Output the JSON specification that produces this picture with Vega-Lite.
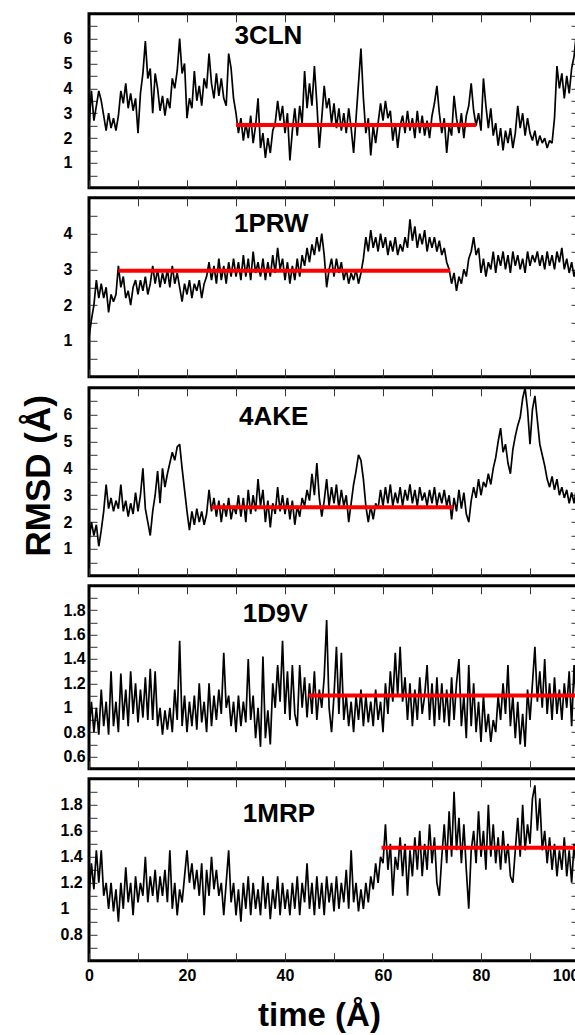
{
"$schema":"https://vega.github.io/schema/vega-lite/v6.json",
"background":"white",
"padding":{"left":19,"top":11.8,"right":0,"bottom":0},
"spacing":6,
"config":{
 "font":"Liberation Sans",
 "view":{"stroke":"black","strokeWidth":3},
 "line":{"color":"black","strokeWidth":1.7,"strokeJoin":"bevel","clip":true},
 "axis":{"domain":false,"grid":false,"tickSize":-8,"tickColor":"#333","tickWidth":1,"labelFont":"Liberation Sans","labelFontWeight":"bold","labelFontSize":16,"labelColor":"black","titleFont":"Liberation Sans","titleFontWeight":"bold","titleColor":"black"}
},
"datasets":{
"d1":[{"t":0,"r":2.5},{"t":0.5,"r":3.9},{"t":1,"r":2.7},{"t":1.5,"r":3.3},{"t":2,"r":3.9},{"t":2.5,"r":3.5},{"t":3,"r":2.9},{"t":3.5,"r":2.3},{"t":4,"r":3.0},{"t":4.5,"r":2.4},
{"t":5,"r":2.8},{"t":5.5,"r":2.3},{"t":6,"r":2.9},{"t":6.5,"r":3.9},{"t":7,"r":3.4},{"t":7.5,"r":4.2},{"t":8,"r":3.2},{"t":8.5,"r":3.8},{"t":9,"r":3.1},{"t":9.5,"r":3.6},
{"t":10,"r":2.2},{"t":10.5,"r":3.8},{"t":11,"r":4.6},{"t":11.5,"r":5.9},{"t":12,"r":4.4},{"t":12.5,"r":4.8},{"t":13,"r":3.0},{"t":13.5,"r":4.6},{"t":14,"r":4.0},{"t":14.5,"r":3.1},
{"t":15,"r":3.7},{"t":15.5,"r":2.9},{"t":16,"r":3.6},{"t":16.5,"r":3.2},{"t":17,"r":4.4},{"t":17.5,"r":4.0},{"t":18,"r":4.7},{"t":18.5,"r":6.0},{"t":19,"r":4.6},{"t":19.5,"r":5.0},
{"t":20,"r":2.8},{"t":20.5,"r":3.6},{"t":21,"r":3.2},{"t":21.5,"r":4.7},{"t":22,"r":3.5},{"t":22.5,"r":4.1},{"t":23,"r":3.3},{"t":23.5,"r":4.4},{"t":24,"r":4.0},{"t":24.5,"r":5.4},
{"t":25,"r":4.2},{"t":25.5,"r":3.6},{"t":26,"r":4.6},{"t":26.5,"r":3.7},{"t":27,"r":4.4},{"t":27.5,"r":3.6},{"t":28,"r":3.3},{"t":28.5,"r":5.4},{"t":29,"r":4.8},{"t":29.5,"r":3.6},
{"t":30,"r":3.0},{"t":30.5,"r":2.2},{"t":31,"r":2.8},{"t":31.5,"r":1.9},{"t":32,"r":2.6},{"t":32.5,"r":2.0},{"t":33,"r":2.9},{"t":33.5,"r":1.8},{"t":34,"r":2.5},{"t":34.5,"r":3.6},
{"t":35,"r":1.6},{"t":35.5,"r":2.2},{"t":36,"r":1.2},{"t":36.5,"r":2.0},{"t":37,"r":1.4},{"t":37.5,"r":2.3},{"t":38,"r":2.6},{"t":38.5,"r":3.5},{"t":39,"r":2.7},{"t":39.5,"r":3.3},
{"t":40,"r":2.2},{"t":40.5,"r":3.0},{"t":41,"r":1.1},{"t":41.5,"r":2.3},{"t":42,"r":3.2},{"t":42.5,"r":2.1},{"t":43,"r":3.3},{"t":43.5,"r":2.6},{"t":44,"r":4.7},{"t":44.5,"r":3.2},
{"t":45,"r":4.2},{"t":45.5,"r":3.3},{"t":46,"r":4.9},{"t":46.5,"r":3.4},{"t":47,"r":1.6},{"t":47.5,"r":2.8},{"t":48,"r":4.1},{"t":48.5,"r":3.2},{"t":49,"r":3.6},{"t":49.5,"r":2.6},
{"t":50,"r":3.4},{"t":50.5,"r":2.4},{"t":51,"r":3.2},{"t":51.5,"r":2.3},{"t":52,"r":3.0},{"t":52.5,"r":2.2},{"t":53,"r":3.2},{"t":53.5,"r":2.4},{"t":54,"r":1.4},{"t":54.5,"r":2.8},
{"t":55,"r":4.2},{"t":55.5,"r":5.6},{"t":56,"r":3.6},{"t":56.5,"r":2.2},{"t":57,"r":2.8},{"t":57.5,"r":1.3},{"t":58,"r":2.5},{"t":58.5,"r":1.8},{"t":59,"r":2.6},{"t":59.5,"r":3.4},
{"t":60,"r":2.7},{"t":60.5,"r":3.5},{"t":61,"r":2.8},{"t":61.5,"r":3.1},{"t":62,"r":1.9},{"t":62.5,"r":2.6},{"t":63,"r":1.6},{"t":63.5,"r":2.5},{"t":64,"r":2.9},{"t":64.5,"r":2.2},
{"t":65,"r":3.1},{"t":65.5,"r":2.3},{"t":66,"r":2.8},{"t":66.5,"r":2.0},{"t":67,"r":3.1},{"t":67.5,"r":2.2},{"t":68,"r":2.9},{"t":68.5,"r":2.1},{"t":69,"r":2.7},{"t":69.5,"r":2.0},
{"t":70,"r":2.9},{"t":70.5,"r":3.4},{"t":71,"r":4.1},{"t":71.5,"r":3.0},{"t":72,"r":2.2},{"t":72.5,"r":2.8},{"t":73,"r":1.4},{"t":73.5,"r":2.5},{"t":74,"r":2.1},{"t":74.5,"r":3.7},
{"t":75,"r":2.8},{"t":75.5,"r":2.2},{"t":76,"r":3.0},{"t":76.5,"r":2.0},{"t":77,"r":2.9},{"t":77.5,"r":3.3},{"t":78,"r":4.2},{"t":78.5,"r":3.1},{"t":79,"r":2.5},{"t":79.5,"r":3.0},
{"t":80,"r":2.3},{"t":80.5,"r":4.4},{"t":81,"r":3.3},{"t":81.5,"r":2.4},{"t":82,"r":3.2},{"t":82.5,"r":2.1},{"t":83,"r":2.6},{"t":83.5,"r":1.7},{"t":84,"r":2.4},{"t":84.5,"r":1.5},
{"t":85,"r":2.3},{"t":85.5,"r":1.8},{"t":86,"r":2.4},{"t":86.5,"r":1.6},{"t":87,"r":2.2},{"t":87.5,"r":3.3},{"t":88,"r":2.4},{"t":88.5,"r":3.0},{"t":89,"r":2.1},{"t":89.5,"r":2.8},
{"t":90,"r":2.2},{"t":90.5,"r":1.9},{"t":91,"r":2.3},{"t":91.5,"r":1.7},{"t":92,"r":2.1},{"t":92.5,"r":1.8},{"t":93,"r":2.0},{"t":93.5,"r":1.6},{"t":94,"r":1.9},{"t":94.5,"r":1.8},
{"t":95,"r":2.8},{"t":95.5,"r":4.9},{"t":96,"r":4.0},{"t":96.5,"r":4.6},{"t":97,"r":3.6},{"t":97.5,"r":4.5},{"t":98,"r":3.8},{"t":98.5,"r":4.8},{"t":99,"r":5.3},{"t":99.5,"r":6.3},
{"t":100,"r":5.8}],
"d2":[{"t":0,"r":1.1},{"t":0.5,"r":1.6},{"t":1,"r":2.0},{"t":1.5,"r":2.7},{"t":2,"r":2.2},{"t":2.5,"r":2.6},{"t":3,"r":2.2},{"t":3.5,"r":2.5},{"t":4,"r":1.8},{"t":4.5,"r":2.3},
{"t":5,"r":2.1},{"t":5.5,"r":2.3},{"t":6,"r":3.1},{"t":6.5,"r":2.5},{"t":7,"r":2.8},{"t":7.5,"r":2.2},{"t":8,"r":2.4},{"t":8.5,"r":2.0},{"t":9,"r":2.5},{"t":9.5,"r":2.7},
{"t":10,"r":2.3},{"t":10.5,"r":2.7},{"t":11,"r":2.4},{"t":11.5,"r":2.8},{"t":12,"r":2.3},{"t":12.5,"r":2.6},{"t":13,"r":3.1},{"t":13.5,"r":2.6},{"t":14,"r":3.0},{"t":14.5,"r":2.5},
{"t":15,"r":2.9},{"t":15.5,"r":2.6},{"t":16,"r":3.0},{"t":16.5,"r":2.5},{"t":17,"r":3.1},{"t":17.5,"r":2.6},{"t":18,"r":2.9},{"t":18.5,"r":2.5},{"t":19,"r":2.1},{"t":19.5,"r":2.6},
{"t":20,"r":2.3},{"t":20.5,"r":2.7},{"t":21,"r":2.2},{"t":21.5,"r":2.6},{"t":22,"r":2.4},{"t":22.5,"r":2.7},{"t":23,"r":2.2},{"t":23.5,"r":2.6},{"t":24,"r":2.8},{"t":24.5,"r":3.2},
{"t":25,"r":2.7},{"t":25.5,"r":3.1},{"t":26,"r":2.6},{"t":26.5,"r":3.3},{"t":27,"r":2.7},{"t":27.5,"r":3.1},{"t":28,"r":2.6},{"t":28.5,"r":3.2},{"t":29,"r":2.8},{"t":29.5,"r":3.3},
{"t":30,"r":2.8},{"t":30.5,"r":3.2},{"t":31,"r":2.7},{"t":31.5,"r":3.4},{"t":32,"r":2.8},{"t":32.5,"r":3.3},{"t":33,"r":2.7},{"t":33.5,"r":3.5},{"t":34,"r":2.9},{"t":34.5,"r":3.2},
{"t":35,"r":2.8},{"t":35.5,"r":3.3},{"t":36,"r":2.7},{"t":36.5,"r":3.2},{"t":37,"r":2.8},{"t":37.5,"r":3.4},{"t":38,"r":2.9},{"t":38.5,"r":3.6},{"t":39,"r":3.0},{"t":39.5,"r":3.3},
{"t":40,"r":2.7},{"t":40.5,"r":3.2},{"t":41,"r":2.6},{"t":41.5,"r":3.1},{"t":42,"r":2.7},{"t":42.5,"r":3.3},{"t":43,"r":2.8},{"t":43.5,"r":3.4},{"t":44,"r":3.1},{"t":44.5,"r":3.6},
{"t":45,"r":3.2},{"t":45.5,"r":3.7},{"t":46,"r":3.4},{"t":46.5,"r":3.9},{"t":47,"r":3.5},{"t":47.5,"r":4.0},{"t":48,"r":3.4},{"t":48.5,"r":2.5},{"t":49,"r":3.0},{"t":49.5,"r":3.3},
{"t":50,"r":2.8},{"t":50.5,"r":3.3},{"t":51,"r":2.9},{"t":51.5,"r":3.2},{"t":52,"r":2.7},{"t":52.5,"r":3.0},{"t":53,"r":2.6},{"t":53.5,"r":2.9},{"t":54,"r":2.7},{"t":54.5,"r":3.0},
{"t":55,"r":2.6},{"t":55.5,"r":2.9},{"t":56,"r":3.3},{"t":56.5,"r":3.9},{"t":57,"r":3.5},{"t":57.5,"r":4.1},{"t":58,"r":3.6},{"t":58.5,"r":3.9},{"t":59,"r":3.5},{"t":59.5,"r":4.0},
{"t":60,"r":3.6},{"t":60.5,"r":3.9},{"t":61,"r":3.4},{"t":61.5,"r":3.8},{"t":62,"r":3.5},{"t":62.5,"r":3.9},{"t":63,"r":3.4},{"t":63.5,"r":3.7},{"t":64,"r":3.5},{"t":64.5,"r":3.9},
{"t":65,"r":3.6},{"t":65.5,"r":4.4},{"t":66,"r":3.8},{"t":66.5,"r":4.2},{"t":67,"r":3.6},{"t":67.5,"r":4.0},{"t":68,"r":3.7},{"t":68.5,"r":4.1},{"t":69,"r":3.5},{"t":69.5,"r":3.9},
{"t":70,"r":3.6},{"t":70.5,"r":3.9},{"t":71,"r":3.5},{"t":71.5,"r":3.8},{"t":72,"r":3.4},{"t":72.5,"r":3.6},{"t":73,"r":3.2},{"t":73.5,"r":3.0},{"t":74,"r":2.6},{"t":74.5,"r":2.9},
{"t":75,"r":2.4},{"t":75.5,"r":2.8},{"t":76,"r":2.6},{"t":76.5,"r":3.0},{"t":77,"r":2.8},{"t":77.5,"r":3.3},{"t":78,"r":3.5},{"t":78.5,"r":3.9},{"t":79,"r":3.4},{"t":79.5,"r":3.6},
{"t":80,"r":2.9},{"t":80.5,"r":3.3},{"t":81,"r":2.8},{"t":81.5,"r":3.2},{"t":82,"r":3.0},{"t":82.5,"r":3.5},{"t":83,"r":2.9},{"t":83.5,"r":3.4},{"t":84,"r":3.1},{"t":84.5,"r":3.5},
{"t":85,"r":3.0},{"t":85.5,"r":3.4},{"t":86,"r":2.9},{"t":86.5,"r":3.5},{"t":87,"r":3.1},{"t":87.5,"r":3.4},{"t":88,"r":3.0},{"t":88.5,"r":3.3},{"t":89,"r":2.9},{"t":89.5,"r":3.5},
{"t":90,"r":3.1},{"t":90.5,"r":3.4},{"t":91,"r":3.2},{"t":91.5,"r":3.5},{"t":92,"r":3.1},{"t":92.5,"r":3.4},{"t":93,"r":3.0},{"t":93.5,"r":3.5},{"t":94,"r":3.1},{"t":94.5,"r":3.4},
{"t":95,"r":3.0},{"t":95.5,"r":3.5},{"t":96,"r":3.2},{"t":96.5,"r":3.6},{"t":97,"r":3.0},{"t":97.5,"r":3.3},{"t":98,"r":2.9},{"t":98.5,"r":3.2},{"t":99,"r":2.8},{"t":99.5,"r":3.1},
{"t":100,"r":2.9}],
"d3":[{"t":0,"r":1.3},{"t":0.5,"r":2.0},{"t":1,"r":1.5},{"t":1.5,"r":1.9},{"t":2,"r":1.1},{"t":2.5,"r":1.7},{"t":3,"r":2.4},{"t":3.5,"r":3.4},{"t":4,"r":2.5},{"t":4.5,"r":2.9},
{"t":5,"r":2.4},{"t":5.5,"r":2.8},{"t":6,"r":2.5},{"t":6.5,"r":3.4},{"t":7,"r":2.4},{"t":7.5,"r":2.8},{"t":8,"r":2.2},{"t":8.5,"r":2.7},{"t":9,"r":2.3},{"t":9.5,"r":3.1},
{"t":10,"r":2.4},{"t":10.5,"r":3.0},{"t":11,"r":4.0},{"t":11.5,"r":2.5},{"t":12,"r":2.0},{"t":12.5,"r":1.5},{"t":13,"r":2.4},{"t":13.5,"r":3.0},{"t":14,"r":3.9},{"t":14.5,"r":2.7},
{"t":15,"r":4.0},{"t":15.5,"r":3.3},{"t":16,"r":3.8},{"t":16.5,"r":4.2},{"t":17,"r":4.6},{"t":17.5,"r":4.3},{"t":18,"r":4.8},{"t":18.5,"r":4.9},{"t":19,"r":4.0},{"t":19.5,"r":3.2},
{"t":20,"r":2.4},{"t":20.5,"r":1.7},{"t":21,"r":2.4},{"t":21.5,"r":1.9},{"t":22,"r":2.5},{"t":22.5,"r":2.0},{"t":23,"r":2.4},{"t":23.5,"r":1.9},{"t":24,"r":2.3},{"t":24.5,"r":3.2},
{"t":25,"r":2.4},{"t":25.5,"r":2.9},{"t":26,"r":2.2},{"t":26.5,"r":2.8},{"t":27,"r":2.0},{"t":27.5,"r":2.7},{"t":28,"r":2.2},{"t":28.5,"r":2.9},{"t":29,"r":2.1},{"t":29.5,"r":2.6},
{"t":30,"r":2.3},{"t":30.5,"r":3.0},{"t":31,"r":2.2},{"t":31.5,"r":2.9},{"t":32,"r":2.0},{"t":32.5,"r":3.2},{"t":33,"r":2.3},{"t":33.5,"r":3.0},{"t":34,"r":2.4},{"t":34.5,"r":3.6},
{"t":35,"r":2.6},{"t":35.5,"r":3.2},{"t":36,"r":2.0},{"t":36.5,"r":2.8},{"t":37,"r":1.8},{"t":37.5,"r":2.7},{"t":38,"r":2.3},{"t":38.5,"r":3.3},{"t":39,"r":2.4},{"t":39.5,"r":3.0},
{"t":40,"r":2.3},{"t":40.5,"r":2.9},{"t":41,"r":2.1},{"t":41.5,"r":2.8},{"t":42,"r":1.9},{"t":42.5,"r":2.6},{"t":43,"r":2.2},{"t":43.5,"r":2.9},{"t":44,"r":2.6},{"t":44.5,"r":3.2},
{"t":45,"r":2.8},{"t":45.5,"r":3.8},{"t":46,"r":3.0},{"t":46.5,"r":4.2},{"t":47,"r":2.9},{"t":47.5,"r":2.2},{"t":48,"r":2.8},{"t":48.5,"r":3.6},{"t":49,"r":2.6},{"t":49.5,"r":3.3},
{"t":50,"r":2.7},{"t":50.5,"r":3.4},{"t":51,"r":2.5},{"t":51.5,"r":3.2},{"t":52,"r":2.6},{"t":52.5,"r":3.0},{"t":53,"r":2.0},{"t":53.5,"r":2.7},{"t":54,"r":3.4},{"t":54.5,"r":3.9},
{"t":55,"r":4.5},{"t":55.5,"r":4.3},{"t":56,"r":3.6},{"t":56.5,"r":2.6},{"t":57,"r":2.0},{"t":57.5,"r":2.6},{"t":58,"r":2.1},{"t":58.5,"r":2.7},{"t":59,"r":2.5},{"t":59.5,"r":3.2},
{"t":60,"r":2.6},{"t":60.5,"r":3.3},{"t":61,"r":2.7},{"t":61.5,"r":3.4},{"t":62,"r":2.6},{"t":62.5,"r":3.1},{"t":63,"r":2.7},{"t":63.5,"r":3.3},{"t":64,"r":2.6},{"t":64.5,"r":3.2},
{"t":65,"r":2.8},{"t":65.5,"r":3.4},{"t":66,"r":2.7},{"t":66.5,"r":3.2},{"t":67,"r":2.6},{"t":67.5,"r":3.3},{"t":68,"r":2.8},{"t":68.5,"r":3.1},{"t":69,"r":2.6},{"t":69.5,"r":3.2},
{"t":70,"r":2.7},{"t":70.5,"r":3.3},{"t":71,"r":2.6},{"t":71.5,"r":3.1},{"t":72,"r":2.7},{"t":72.5,"r":3.2},{"t":73,"r":2.6},{"t":73.5,"r":3.0},{"t":74,"r":2.1},{"t":74.5,"r":2.9},
{"t":75,"r":2.4},{"t":75.5,"r":3.2},{"t":76,"r":2.5},{"t":76.5,"r":3.1},{"t":77,"r":2.3},{"t":77.5,"r":2.0},{"t":78,"r":2.8},{"t":78.5,"r":3.3},{"t":79,"r":2.9},{"t":79.5,"r":3.6},
{"t":80,"r":3.0},{"t":80.5,"r":3.5},{"t":81,"r":3.3},{"t":81.5,"r":3.8},{"t":82,"r":3.4},{"t":82.5,"r":4.0},{"t":83,"r":4.4},{"t":83.5,"r":5.0},{"t":84,"r":5.5},{"t":84.5,"r":4.6},
{"t":85,"r":4.9},{"t":85.5,"r":4.2},{"t":86,"r":3.8},{"t":86.5,"r":4.7},{"t":87,"r":5.2},{"t":87.5,"r":5.6},{"t":88,"r":5.9},{"t":88.5,"r":6.6},{"t":89,"r":7.0},{"t":89.5,"r":6.2},
{"t":90,"r":4.9},{"t":90.5,"r":6.2},{"t":91,"r":6.7},{"t":91.5,"r":5.8},{"t":92,"r":4.9},{"t":92.5,"r":4.5},{"t":93,"r":4.1},{"t":93.5,"r":3.6},{"t":94,"r":3.3},{"t":94.5,"r":3.7},
{"t":95,"r":3.2},{"t":95.5,"r":3.6},{"t":96,"r":3.0},{"t":96.5,"r":3.3},{"t":97,"r":2.9},{"t":97.5,"r":3.2},{"t":98,"r":2.7},{"t":98.5,"r":3.1},{"t":99,"r":2.7},{"t":99.5,"r":3.3},
{"t":100,"r":3.0}],
"d4":[{"t":0,"r":0.8},{"t":0.5,"r":1.05},{"t":1,"r":0.8},{"t":1.5,"r":1.0},{"t":2,"r":0.78},{"t":2.5,"r":1.15},{"t":3,"r":0.85},{"t":3.5,"r":1.05},{"t":4,"r":0.78},{"t":4.5,"r":1.3},
{"t":5,"r":0.85},{"t":5.5,"r":1.05},{"t":6,"r":0.8},{"t":6.5,"r":1.28},{"t":7,"r":0.9},{"t":7.5,"r":1.15},{"t":8,"r":0.85},{"t":8.5,"r":1.3},{"t":9,"r":0.95},{"t":9.5,"r":1.2},
{"t":10,"r":0.88},{"t":10.5,"r":1.15},{"t":11,"r":0.92},{"t":11.5,"r":1.25},{"t":12,"r":0.9},{"t":12.5,"r":1.32},{"t":13,"r":0.9},{"t":13.5,"r":1.3},{"t":14,"r":0.85},{"t":14.5,"r":1.0},
{"t":15,"r":0.78},{"t":15.5,"r":0.98},{"t":16,"r":0.82},{"t":16.5,"r":1.0},{"t":17,"r":0.8},{"t":17.5,"r":1.15},{"t":18,"r":0.9},{"t":18.5,"r":1.55},{"t":19,"r":0.85},{"t":19.5,"r":1.1},
{"t":20,"r":0.8},{"t":20.5,"r":1.05},{"t":21,"r":0.85},{"t":21.5,"r":1.1},{"t":22,"r":0.82},{"t":22.5,"r":1.2},{"t":23,"r":0.88},{"t":23.5,"r":1.05},{"t":24,"r":0.8},{"t":24.5,"r":1.2},
{"t":25,"r":0.85},{"t":25.5,"r":1.1},{"t":26,"r":0.9},{"t":26.5,"r":1.15},{"t":27,"r":0.95},{"t":27.5,"r":1.45},{"t":28,"r":1.0},{"t":28.5,"r":1.1},{"t":29,"r":0.85},{"t":29.5,"r":1.05},
{"t":30,"r":0.8},{"t":30.5,"r":1.1},{"t":31,"r":0.85},{"t":31.5,"r":1.05},{"t":32,"r":0.88},{"t":32.5,"r":1.4},{"t":33,"r":0.9},{"t":33.5,"r":1.1},{"t":34,"r":0.75},{"t":34.5,"r":1.0},
{"t":35,"r":0.68},{"t":35.5,"r":1.42},{"t":36,"r":0.75},{"t":36.5,"r":0.98},{"t":37,"r":0.7},{"t":37.5,"r":1.2},{"t":38,"r":1.0},{"t":38.5,"r":1.35},{"t":39,"r":1.05},{"t":39.5,"r":1.55},
{"t":40,"r":0.95},{"t":40.5,"r":1.3},{"t":41,"r":0.9},{"t":41.5,"r":1.35},{"t":42,"r":0.95},{"t":42.5,"r":0.85},{"t":43,"r":1.35},{"t":43.5,"r":1.0},{"t":44,"r":1.25},{"t":44.5,"r":0.92},
{"t":45,"r":1.2},{"t":45.5,"r":0.95},{"t":46,"r":1.3},{"t":46.5,"r":0.9},{"t":47,"r":1.15},{"t":47.5,"r":1.0},{"t":48,"r":1.25},{"t":48.5,"r":1.72},{"t":49,"r":1.0},{"t":49.5,"r":0.8},
{"t":50,"r":1.1},{"t":50.5,"r":1.5},{"t":51,"r":0.95},{"t":51.5,"r":1.45},{"t":52,"r":0.9},{"t":52.5,"r":1.1},{"t":53,"r":0.85},{"t":53.5,"r":1.05},{"t":54,"r":0.8},{"t":54.5,"r":1.1},
{"t":55,"r":0.9},{"t":55.5,"r":1.15},{"t":56,"r":0.85},{"t":56.5,"r":1.1},{"t":57,"r":0.88},{"t":57.5,"r":1.05},{"t":58,"r":0.85},{"t":58.5,"r":1.15},{"t":59,"r":0.9},{"t":59.5,"r":1.05},
{"t":60,"r":0.8},{"t":60.5,"r":1.2},{"t":61,"r":0.95},{"t":61.5,"r":1.3},{"t":62,"r":1.05},{"t":62.5,"r":1.45},{"t":63,"r":1.1},{"t":63.5,"r":1.5},{"t":64,"r":1.05},{"t":64.5,"r":1.25},
{"t":65,"r":0.9},{"t":65.5,"r":1.2},{"t":66,"r":0.85},{"t":66.5,"r":1.15},{"t":67,"r":0.9},{"t":67.5,"r":1.25},{"t":68,"r":0.95},{"t":68.5,"r":1.1},{"t":69,"r":1.35},{"t":69.5,"r":0.9},
{"t":70,"r":1.2},{"t":70.5,"r":0.85},{"t":71,"r":1.25},{"t":71.5,"r":0.9},{"t":72,"r":1.2},{"t":72.5,"r":0.88},{"t":73,"r":1.15},{"t":73.5,"r":0.85},{"t":74,"r":1.25},{"t":74.5,"r":0.9},
{"t":75,"r":1.2},{"t":75.5,"r":1.4},{"t":76,"r":0.85},{"t":76.5,"r":1.1},{"t":77,"r":0.75},{"t":77.5,"r":1.35},{"t":78,"r":0.85},{"t":78.5,"r":1.2},{"t":79,"r":0.8},{"t":79.5,"r":1.05},
{"t":80,"r":0.72},{"t":80.5,"r":1.1},{"t":81,"r":0.8},{"t":81.5,"r":0.95},{"t":82,"r":0.72},{"t":82.5,"r":0.9},{"t":83,"r":0.8},{"t":83.5,"r":1.1},{"t":84,"r":0.9},{"t":84.5,"r":1.2},
{"t":85,"r":0.95},{"t":85.5,"r":1.35},{"t":86,"r":0.85},{"t":86.5,"r":1.1},{"t":87,"r":0.75},{"t":87.5,"r":1.05},{"t":88,"r":0.7},{"t":88.5,"r":0.95},{"t":89,"r":0.68},{"t":89.5,"r":1.15},
{"t":90,"r":0.9},{"t":90.5,"r":1.2},{"t":91,"r":1.5},{"t":91.5,"r":1.05},{"t":92,"r":1.3},{"t":92.5,"r":1.0},{"t":93,"r":1.4},{"t":93.5,"r":0.95},{"t":94,"r":1.2},{"t":94.5,"r":0.9},
{"t":95,"r":1.25},{"t":95.5,"r":0.95},{"t":96,"r":1.15},{"t":96.5,"r":0.9},{"t":97,"r":1.2},{"t":97.5,"r":1.0},{"t":98,"r":1.3},{"t":98.5,"r":0.85},{"t":99,"r":1.35},{"t":99.5,"r":1.0},
{"t":100,"r":1.25}],
"d5":[{"t":0,"r":1.1},{"t":0.5,"r":1.35},{"t":1,"r":1.15},{"t":1.5,"r":1.45},{"t":2,"r":1.2},{"t":2.5,"r":1.45},{"t":3,"r":1.1},{"t":3.5,"r":1.2},{"t":4,"r":1.0},{"t":4.5,"r":1.2},
{"t":5,"r":0.98},{"t":5.5,"r":1.15},{"t":6,"r":0.9},{"t":6.5,"r":1.2},{"t":7,"r":1.0},{"t":7.5,"r":1.32},{"t":8,"r":1.05},{"t":8.5,"r":1.2},{"t":9,"r":0.95},{"t":9.5,"r":1.25},
{"t":10,"r":1.05},{"t":10.5,"r":1.2},{"t":11,"r":1.1},{"t":11.5,"r":1.4},{"t":12,"r":1.05},{"t":12.5,"r":1.25},{"t":13,"r":1.1},{"t":13.5,"r":1.3},{"t":14,"r":1.05},{"t":14.5,"r":1.25},
{"t":15,"r":1.1},{"t":15.5,"r":1.3},{"t":16,"r":1.05},{"t":16.5,"r":1.45},{"t":17,"r":1.0},{"t":17.5,"r":1.2},{"t":18,"r":0.95},{"t":18.5,"r":1.15},{"t":19,"r":1.05},{"t":19.5,"r":1.25},
{"t":20,"r":1.45},{"t":20.5,"r":1.2},{"t":21,"r":1.35},{"t":21.5,"r":1.15},{"t":22,"r":1.3},{"t":22.5,"r":1.1},{"t":23,"r":1.35},{"t":23.5,"r":0.95},{"t":24,"r":1.3},{"t":24.5,"r":1.1},
{"t":25,"r":1.4},{"t":25.5,"r":1.15},{"t":26,"r":1.3},{"t":26.5,"r":1.1},{"t":27,"r":1.2},{"t":27.5,"r":0.95},{"t":28,"r":1.2},{"t":28.5,"r":1.45},{"t":29,"r":1.05},{"t":29.5,"r":1.2},
{"t":30,"r":0.95},{"t":30.5,"r":1.15},{"t":31,"r":0.9},{"t":31.5,"r":1.2},{"t":32,"r":1.0},{"t":32.5,"r":1.25},{"t":33,"r":0.95},{"t":33.5,"r":1.2},{"t":34,"r":1.0},{"t":34.5,"r":1.15},
{"t":35,"r":0.95},{"t":35.5,"r":1.25},{"t":36,"r":1.0},{"t":36.5,"r":1.2},{"t":37,"r":0.92},{"t":37.5,"r":1.15},{"t":38,"r":1.0},{"t":38.5,"r":1.25},{"t":39,"r":0.95},{"t":39.5,"r":1.2},
{"t":40,"r":1.0},{"t":40.5,"r":1.15},{"t":41,"r":0.95},{"t":41.5,"r":1.2},{"t":42,"r":1.0},{"t":42.5,"r":1.25},{"t":43,"r":0.95},{"t":43.5,"r":1.2},{"t":44,"r":1.05},{"t":44.5,"r":1.35},
{"t":45,"r":1.0},{"t":45.5,"r":1.2},{"t":46,"r":0.95},{"t":46.5,"r":1.25},{"t":47,"r":1.0},{"t":47.5,"r":1.2},{"t":48,"r":0.95},{"t":48.5,"r":1.25},{"t":49,"r":1.05},{"t":49.5,"r":1.2},
{"t":50,"r":0.98},{"t":50.5,"r":1.25},{"t":51,"r":1.0},{"t":51.5,"r":1.2},{"t":52,"r":1.05},{"t":52.5,"r":1.3},{"t":53,"r":1.0},{"t":53.5,"r":1.45},{"t":54,"r":1.05},{"t":54.5,"r":1.2},
{"t":55,"r":0.98},{"t":55.5,"r":1.15},{"t":56,"r":1.0},{"t":56.5,"r":1.2},{"t":57,"r":1.05},{"t":57.5,"r":1.25},{"t":58,"r":1.15},{"t":58.5,"r":1.35},{"t":59,"r":1.2},{"t":59.5,"r":1.4},
{"t":60,"r":1.35},{"t":60.5,"r":1.65},{"t":61,"r":1.3},{"t":61.5,"r":1.5},{"t":62,"r":1.1},{"t":62.5,"r":1.4},{"t":63,"r":1.3},{"t":63.5,"r":1.55},{"t":64,"r":1.25},{"t":64.5,"r":1.5},
{"t":65,"r":1.1},{"t":65.5,"r":1.45},{"t":66,"r":1.25},{"t":66.5,"r":1.55},{"t":67,"r":1.3},{"t":67.5,"r":1.6},{"t":68,"r":1.25},{"t":68.5,"r":1.5},{"t":69,"r":1.3},{"t":69.5,"r":1.65},
{"t":70,"r":1.35},{"t":70.5,"r":1.55},{"t":71,"r":1.2},{"t":71.5,"r":1.1},{"t":72,"r":1.4},{"t":72.5,"r":1.65},{"t":73,"r":1.35},{"t":73.5,"r":1.75},{"t":74,"r":1.4},{"t":74.5,"r":1.9},
{"t":75,"r":1.45},{"t":75.5,"r":1.7},{"t":76,"r":1.35},{"t":76.5,"r":1.65},{"t":77,"r":1.3},{"t":77.5,"r":1.0},{"t":78,"r":1.45},{"t":78.5,"r":1.6},{"t":79,"r":1.35},{"t":79.5,"r":1.75},
{"t":80,"r":1.4},{"t":80.5,"r":1.6},{"t":81,"r":1.3},{"t":81.5,"r":1.8},{"t":82,"r":1.4},{"t":82.5,"r":1.65},{"t":83,"r":1.35},{"t":83.5,"r":1.55},{"t":84,"r":1.3},{"t":84.5,"r":1.6},
{"t":85,"r":1.35},{"t":85.5,"r":1.5},{"t":86,"r":1.25},{"t":86.5,"r":1.2},{"t":87,"r":1.45},{"t":87.5,"r":1.7},{"t":88,"r":1.4},{"t":88.5,"r":1.8},{"t":89,"r":1.45},{"t":89.5,"r":1.65},
{"t":90,"r":1.5},{"t":90.5,"r":1.85},{"t":91,"r":1.95},{"t":91.5,"r":1.6},{"t":92,"r":1.85},{"t":92.5,"r":1.45},{"t":93,"r":1.6},{"t":93.5,"r":1.35},{"t":94,"r":1.55},{"t":94.5,"r":1.3},
{"t":95,"r":1.5},{"t":95.5,"r":1.25},{"t":96,"r":1.45},{"t":96.5,"r":1.3},{"t":97,"r":1.55},{"t":97.5,"r":1.25},{"t":98,"r":1.45},{"t":98.5,"r":1.2},{"t":99,"r":1.5},{"t":99.5,"r":1.3},
{"t":100,"r":1.45}]
},
"vconcat":[
{"width":490,"height":174,
 "layer":[
  {"data":{"name":"d1"},"mark":{"type":"line"},
   "encoding":{"x":{"field":"t","type":"quantitative","scale":{"domain":[0,100],"nice":false},"axis":{"orient":"bottom","values":[0,10,20,30,40,50,60,70,80,90,100],"labels":false,"title":null}},
    "y":{"field":"r","type":"quantitative","scale":{"domain":[0,7],"nice":false,"zero":false},"axis":{"orient":"left","values":[0.5,1,1.5,2,2.5,3,3.5,4,4.5,5,5.5,6,6.5],"labelExpr":"datum.value % 1 === 0 ? datum.label : ''","format":"~g","labelAlign":"left","labelPadding":34,"title":null}}}},
  {"data":{"values":[{"t":30,"t2":79,"r":2.53}]},"mark":{"type":"rule","color":"#ff0000","strokeWidth":4},
   "encoding":{"x":{"field":"t","type":"quantitative","scale":{"domain":[0,100],"nice":false},"axis":{"orient":"top","values":[10,20,30,40,50,60,70,80,90],"labels":false,"title":null}},"x2":{"field":"t2"},
    "y":{"field":"r","type":"quantitative","scale":{"domain":[0,7],"nice":false,"zero":false},"axis":{"orient":"right","values":[0.5,1,1.5,2,2.5,3,3.5,4,4.5,5,5.5,6,6.5],"labels":false,"title":null}}}},
  {"data":{"values":[{}]},"mark":{"type":"text","align":"left","baseline":"alphabetic","fontSize":26,"fontWeight":"bold","font":"Liberation Sans","color":"black"},
   "encoding":{"x":{"datum":29.7,"type":"quantitative","axis":null},"y":{"datum":5.8,"type":"quantitative","axis":null},"text":{"value":"3CLN"}}}
 ],
 "resolve":{"axis":{"x":"independent","y":"independent"}}},
{"width":490,"height":179,
 "layer":[
  {"data":{"name":"d2"},"mark":{"type":"line"},
   "encoding":{"x":{"field":"t","type":"quantitative","scale":{"domain":[0,100],"nice":false},"axis":{"orient":"bottom","values":[0,10,20,30,40,50,60,70,80,90,100],"labels":false,"title":null}},
    "y":{"field":"r","type":"quantitative","scale":{"domain":[0,5],"nice":false,"zero":false},"axis":{"orient":"left","values":[0.5,1,1.5,2,2.5,3,3.5,4,4.5],"labelExpr":"datum.value % 1 === 0 ? datum.label : ''","format":"~g","labelAlign":"left","labelPadding":34,"title":null}}}},
  {"data":{"values":[{"t":6,"t2":73.7,"r":2.96}]},"mark":{"type":"rule","color":"#ff0000","strokeWidth":4},
   "encoding":{"x":{"field":"t","type":"quantitative","scale":{"domain":[0,100],"nice":false},"axis":{"orient":"top","values":[10,20,30,40,50,60,70,80,90],"labels":false,"title":null}},"x2":{"field":"t2"},
    "y":{"field":"r","type":"quantitative","scale":{"domain":[0,5],"nice":false,"zero":false},"axis":{"orient":"right","values":[0.5,1,1.5,2,2.5,3,3.5,4,4.5],"labels":false,"title":null}}}},
  {"data":{"values":[{}]},"mark":{"type":"text","align":"left","baseline":"alphabetic","fontSize":26,"fontWeight":"bold","font":"Liberation Sans","color":"black"},
   "encoding":{"x":{"datum":29.6,"type":"quantitative","axis":null},"y":{"datum":4.04,"type":"quantitative","axis":null},"text":{"value":"1PRW"}}}
 ],
 "resolve":{"axis":{"x":"independent","y":"independent"}}},
{"width":490,"height":188,
 "layer":[
  {"data":{"name":"d3"},"mark":{"type":"line"},
   "encoding":{"x":{"field":"t","type":"quantitative","scale":{"domain":[0,100],"nice":false},"axis":{"orient":"bottom","values":[0,10,20,30,40,50,60,70,80,90,100],"labels":false,"title":null}},
    "y":{"field":"r","type":"quantitative","scale":{"domain":[0,7],"nice":false,"zero":false},"axis":{"orient":"left","values":[0.5,1,1.5,2,2.5,3,3.5,4,4.5,5,5.5,6,6.5],"labelExpr":"datum.value % 1 === 0 ? datum.label : ''","format":"~g","labelAlign":"left","labelPadding":34,"title":"RMSD (Å)","titleFontSize":35,"titleAngle":270,"titleX":-40,"titleY":87.5,"titleAlign":"center","titleBaseline":"alphabetic"}}}},
  {"data":{"values":[{"t":25,"t2":74.3,"r":2.55}]},"mark":{"type":"rule","color":"#ff0000","strokeWidth":4},
   "encoding":{"x":{"field":"t","type":"quantitative","scale":{"domain":[0,100],"nice":false},"axis":{"orient":"top","values":[10,20,30,40,50,60,70,80,90],"labels":false,"title":null}},"x2":{"field":"t2"},
    "y":{"field":"r","type":"quantitative","scale":{"domain":[0,7],"nice":false,"zero":false},"axis":{"orient":"right","values":[0.5,1,1.5,2,2.5,3,3.5,4,4.5,5,5.5,6,6.5],"labels":false,"title":null}}}},
  {"data":{"values":[{}]},"mark":{"type":"text","align":"left","baseline":"alphabetic","fontSize":26,"fontWeight":"bold","font":"Liberation Sans","color":"black"},
   "encoding":{"x":{"datum":30.6,"type":"quantitative","axis":null},"y":{"datum":5.62,"type":"quantitative","axis":null},"text":{"value":"4AKE"}}}
 ],
 "resolve":{"axis":{"x":"independent","y":"independent"}}},
{"width":490,"height":183,
 "layer":[
  {"data":{"name":"d4"},"mark":{"type":"line"},
   "encoding":{"x":{"field":"t","type":"quantitative","scale":{"domain":[0,100],"nice":false},"axis":{"orient":"bottom","values":[0,10,20,30,40,50,60,70,80,90,100],"labels":false,"title":null}},
    "y":{"field":"r","type":"quantitative","scale":{"domain":[0.5,2],"nice":false,"zero":false},"axis":{"orient":"left","values":[0.6,0.7,0.8,0.9,1,1.1,1.2,1.3,1.4,1.5,1.6,1.7,1.8,1.9],"labelExpr":"abs(round(datum.value*10)) % 2 === 0 ? datum.label : ''","format":"~g","labelAlign":"left","labelPadding":34,"title":null}}}},
  {"data":{"values":[{"t":44.8,"t2":100,"r":1.1}]},"mark":{"type":"rule","color":"#ff0000","strokeWidth":4},
   "encoding":{"x":{"field":"t","type":"quantitative","scale":{"domain":[0,100],"nice":false},"axis":{"orient":"top","values":[10,20,30,40,50,60,70,80,90],"labels":false,"title":null}},"x2":{"field":"t2"},
    "y":{"field":"r","type":"quantitative","scale":{"domain":[0.5,2],"nice":false,"zero":false},"axis":{"orient":"right","values":[0.6,0.7,0.8,0.9,1,1.1,1.2,1.3,1.4,1.5,1.6,1.7,1.8,1.9],"labels":false,"title":null}}}},
  {"data":{"values":[{}]},"mark":{"type":"text","align":"left","baseline":"alphabetic","fontSize":26,"fontWeight":"bold","font":"Liberation Sans","color":"black"},
   "encoding":{"x":{"datum":31.4,"type":"quantitative","axis":null},"y":{"datum":1.7,"type":"quantitative","axis":null},"text":{"value":"1D9V"}}}
 ],
 "resolve":{"axis":{"x":"independent","y":"independent"}}},
{"width":490,"height":182,
 "layer":[
  {"data":{"name":"d5"},"mark":{"type":"line"},
   "encoding":{"x":{"field":"t","type":"quantitative","scale":{"domain":[0,100],"nice":false},"axis":{"orient":"bottom","values":[0,10,20,30,40,50,60,70,80,90,100],"labelExpr":"datum.value % 20 === 0 ? datum.label : ''","labelAlign":{"condition":{"test":"datum.value === 100","value":"right"},"value":"center"},"labelPadding":15,"title":"time (Å)","titleFontSize":33,"titleX":230,"titleY":65,"titleAlign":"center","titleBaseline":"alphabetic"}},
    "y":{"field":"r","type":"quantitative","scale":{"domain":[0.6,2],"nice":false,"zero":false},"axis":{"orient":"left","values":[0.7,0.8,0.9,1,1.1,1.2,1.3,1.4,1.5,1.6,1.7,1.8,1.9],"labelExpr":"abs(round(datum.value*10)) % 2 === 0 ? datum.label : ''","format":"~g","labelAlign":"left","labelPadding":37,"title":null}}}},
  {"data":{"values":[{"t":59.7,"t2":100,"r":1.47}]},"mark":{"type":"rule","color":"#ff0000","strokeWidth":4},
   "encoding":{"x":{"field":"t","type":"quantitative","scale":{"domain":[0,100],"nice":false},"axis":{"orient":"top","values":[10,20,30,40,50,60,70,80,90],"labels":false,"title":null}},"x2":{"field":"t2"},
    "y":{"field":"r","type":"quantitative","scale":{"domain":[0.6,2],"nice":false,"zero":false},"axis":{"orient":"right","values":[0.7,0.8,0.9,1,1.1,1.2,1.3,1.4,1.5,1.6,1.7,1.8,1.9],"labels":false,"title":null}}}},
  {"data":{"values":[{}]},"mark":{"type":"text","align":"left","baseline":"alphabetic","fontSize":26,"fontWeight":"bold","font":"Liberation Sans","color":"black"},
   "encoding":{"x":{"datum":31.4,"type":"quantitative","axis":null},"y":{"datum":1.67,"type":"quantitative","axis":null},"text":{"value":"1MRP"}}}
 ],
 "resolve":{"axis":{"x":"independent","y":"independent"}}}
]
}
